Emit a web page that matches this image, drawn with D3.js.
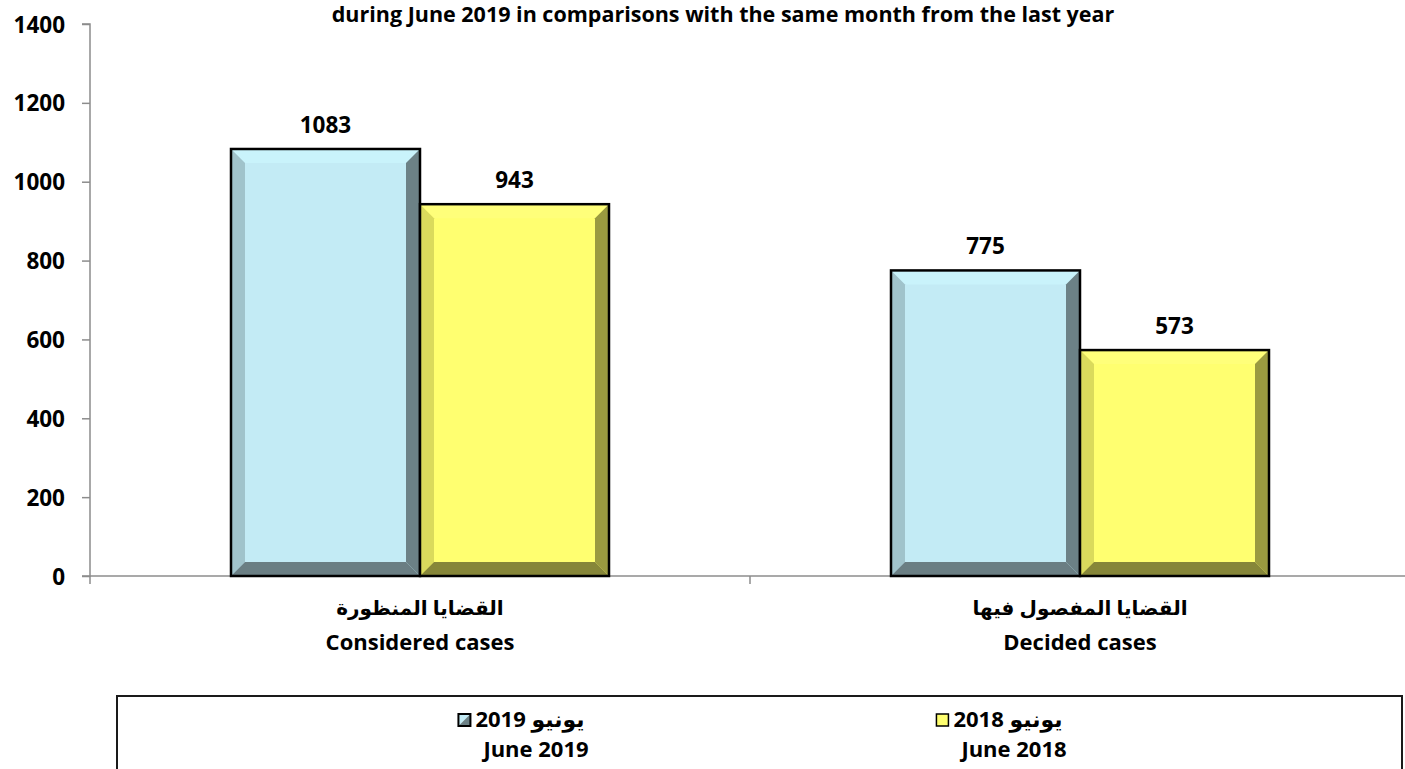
<!DOCTYPE html>
<html>
<head>
<meta charset="utf-8">
<script src="https://cdn.jsdelivr.net/npm/d3@7"></script>
<style>
  html, body { margin: 0; padding: 0; background: #fff; }
  svg { display: block; }
  text { font-family: "Open Sans", "DejaVu Sans", sans-serif; font-weight: bold; fill: #000; }
</style>
</head>
<body>
<svg id="chart" width="1405" height="769"></svg>
<script>
// ---- data ----
const titleText = "during June 2019 in comparisons with the same month from the last year";
const categoriesAr = ["القضايا المنظورة", "القضايا المفصول فيها"];
const categoriesEn = ["Considered cases", "Decided cases"];
const seriesKeys = ["2019", "2018"];
const seriesAr = ["يونيو 2019", "يونيو 2018"];
const seriesEn = ["June 2019", "June 2018"];
const values2019 = [1083, 775];
const values2018 = [943, 573];
const yTicks = [0, 200, 400, 600, 800, 1000, 1200, 1400];

const seriesValues = { "2019": values2019, "2018": values2018 };
const palette = {
  "2019": { face: "#c3ebf5", top: "#c9f3fb", left: "#a0c3cb", right: "#6c8186", bottom: "#6a7e83" },
  "2018": { face: "#ffff70", top: "#ffff7a", left: "#dada5c", right: "#9a9a40", bottom: "#868639" }
};

const svg = d3.select("#chart");
const plot = { left: 90, right: 1410, top: 24, bottom: 576 };

const x0 = d3.scaleBand().domain(categoriesEn).range([plot.left, plot.right]).paddingInner(0).paddingOuter(0);
const x1 = d3.scaleBand().domain(seriesKeys).range([0, x0.bandwidth()]).paddingInner(0).paddingOuter(0.746);
const y = d3.scaleLinear().domain([0, 1400]).range([plot.bottom, plot.top]);

// title
svg.append("text")
  .attr("x", 723).attr("y", 22)
  .attr("text-anchor", "middle")
  .style("font-size", "21.5px")
  .text(titleText);

// y axis
const yAxis = d3.axisLeft(y).tickValues(yTicks).tickSize(8).tickPadding(17).tickFormat(d3.format("d"));
const gy = svg.append("g").attr("transform", `translate(${plot.left},0)`).call(yAxis);
gy.select(".domain").attr("stroke", "#8c8c8c").attr("stroke-width", 1.5).attr("d", `M-8,${plot.top}H0V${plot.bottom}H-8`);
gy.selectAll(".tick line").attr("stroke", "#8c8c8c").attr("stroke-width", 1.5);
gy.selectAll(".tick text").style("font-size", "22.5px").style("font-family", "\"Open Sans\", sans-serif").style("font-weight", "bold").attr("fill", "#000").attr("dy", "0.36em");

// x axis line + ticks
const xb = [plot.left, ...categoriesEn.map(c => x0(c) + x0.bandwidth())];
svg.append("line").attr("x1", plot.left).attr("x2", plot.right).attr("y1", plot.bottom).attr("y2", plot.bottom)
  .attr("stroke", "#8c8c8c").attr("stroke-width", 1.5);
svg.selectAll(".xtick").data(xb).enter().append("line")
  .attr("x1", d => d).attr("x2", d => d).attr("y1", plot.bottom).attr("y2", plot.bottom + 8)
  .attr("stroke", "#8c8c8c").attr("stroke-width", 1.5);

// bars with bevel
const b = 14;
const barData = [];
categoriesEn.forEach((c, i) => {
  seriesKeys.forEach(k => {
    barData.push({ cat: c, key: k, value: seriesValues[k][i] });
  });
});
const gBars = svg.append("g");
barData.forEach(d => {
  const xa = x0(d.cat) + x1(d.key), xz = xa + x1.bandwidth();
  const ya = y(d.value), yz = y(0);
  const p = palette[d.key];
  const g = gBars.append("g");
  const poly = pts => pts.map(q => q.join(",")).join(" ");
  g.append("rect").attr("x", xa).attr("y", ya).attr("width", xz - xa).attr("height", yz - ya).attr("fill", p.face);
  g.append("polygon").attr("points", poly([[xa, ya], [xz, ya], [xz - b, ya + b], [xa + b, ya + b]])).attr("fill", p.top);
  g.append("polygon").attr("points", poly([[xa, ya], [xa + b, ya + b], [xa + b, yz - b], [xa, yz]])).attr("fill", p.left);
  g.append("polygon").attr("points", poly([[xz, ya], [xz, yz], [xz - b, yz - b], [xz - b, ya + b]])).attr("fill", p.right);
  g.append("polygon").attr("points", poly([[xa, yz], [xz, yz], [xz - b, yz - b], [xa + b, yz - b]])).attr("fill", p.bottom);
  g.append("rect").attr("x", xa).attr("y", ya).attr("width", xz - xa).attr("height", yz - ya)
    .attr("fill", "none").attr("stroke", "#000").attr("stroke-width", 2.5);
  g.append("text").attr("x", (xa + xz) / 2).attr("y", ya - 16).attr("text-anchor", "middle")
    .style("font-size", "22.5px").text(d.value);
});

// category labels
const gCat = svg.append("g");
categoriesEn.forEach((c, i) => {
  const cx = x0(c) + x0.bandwidth() / 2;
  gCat.append("text").attr("x", cx).attr("y", 615).attr("text-anchor", "middle")
    .style("direction", "rtl").style("font-size", "20px").text(categoriesAr[i]);
  gCat.append("text").attr("x", cx).attr("y", 650).attr("text-anchor", "middle")
    .style("font-size", "22px").text(c);
});

// legend
svg.append("rect").attr("x", 117).attr("y", 696).attr("width", 1285).attr("height", 100)
  .attr("fill", "#fff").attr("stroke", "#1a1a1a").attr("stroke-width", 2);
const legendCx = [530, 1008];
seriesKeys.forEach((k, i) => {
  const cx = legendCx[i];
  const tAr = svg.append("text").attr("x", cx).attr("y", 727).attr("text-anchor", "middle")
    .style("direction", "rtl").style("font-size", "22px").text(seriesAr[i]);
  svg.append("text").attr("x", cx + 6).attr("y", 757).attr("text-anchor", "middle")
    .style("font-size", "22px").text(seriesEn[i]);
  const w = tAr.node().getComputedTextLength();
  const sx = cx - w / 2 - 17, sy = 714, s = 12;
  const p = palette[k];
  if (k === "2019") {
    svg.append("polygon").attr("points", `${sx},${sy} ${sx + s},${sy} ${sx},${sy + s}`).attr("fill", p.face);
    svg.append("polygon").attr("points", `${sx + s},${sy} ${sx + s},${sy + s} ${sx},${sy + s}`).attr("fill", p.right);
    svg.append("rect").attr("x", sx).attr("y", sy).attr("width", s).attr("height", s)
      .attr("fill", "none").attr("stroke", "#000").attr("stroke-width", 2);
  } else {
    svg.append("rect").attr("x", sx).attr("y", sy).attr("width", s).attr("height", s)
      .attr("fill", p.face).attr("stroke", "#000").attr("stroke-width", 1.5);
  }
});
</script>
</body>
</html>
